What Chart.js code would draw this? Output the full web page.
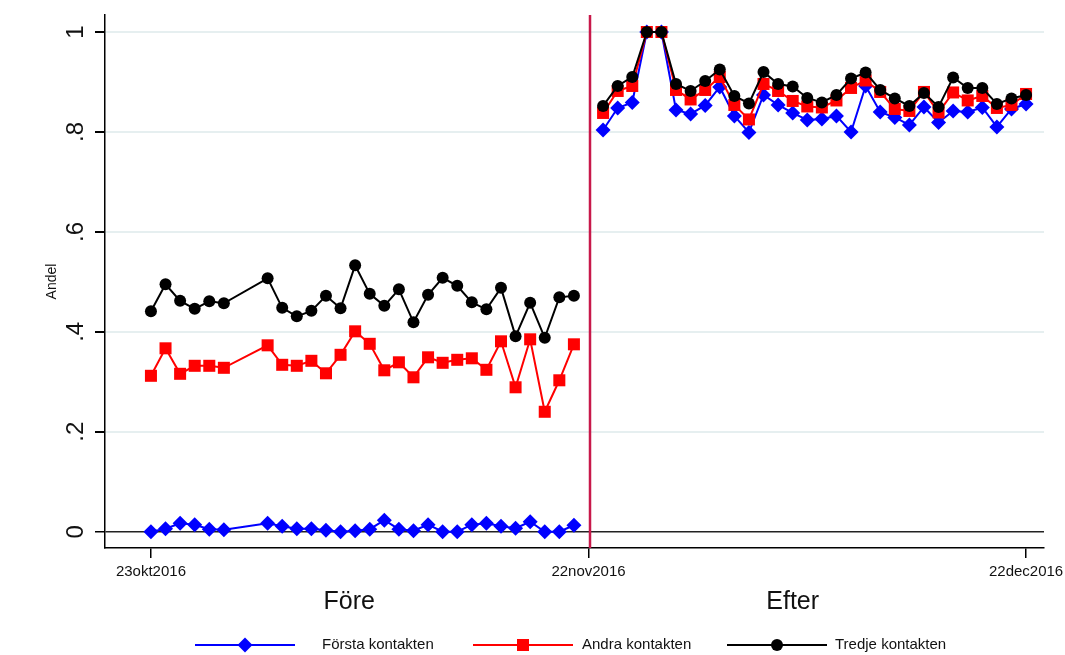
<!DOCTYPE html>
<html>
<head>
<meta charset="utf-8">
<script src="https://cdn.jsdelivr.net/npm/chart.js@4.4.0/dist/chart.umd.min.js"></script>
<style>
    html, body { margin: 0; padding: 0; background: #fff; }
    #wrap { width: 1065px; height: 655px; }
</style>
</head>
<body>
<div id="wrap"><canvas id="grafik" width="1065" height="655"></canvas></div>
<script>
// 1. DATA (dag 0 = 23okt2016, dag 30 = 22nov2016 = brytpunkt, null ger glapp)
const dagar = [0, 1, 2, 3, 4, 5, 8, 9, 10, 11, 12, 13, 14, 15, 16, 17, 18, 19, 20, 21, 22, 23, 24, 25, 26, 27, 28, 29,
    30,
    31, 32, 33, 34, 35, 36, 37, 38, 39, 40, 41, 42, 43, 44, 45, 46, 47, 48, 49, 50, 51, 52, 53, 54, 55, 56, 57, 58, 59, 60];

const forsta = [0.000, 0.006, 0.017, 0.014, 0.005, 0.004, 0.017, 0.011, 0.006, 0.006, 0.003, 0.000, 0.002, 0.005,
    0.023, 0.005, 0.002, 0.014, 0.000, 0.000, 0.014, 0.017, 0.011, 0.007, 0.020, 0.000, 0.000, 0.013,
    null,
    0.804, 0.848, 0.859, 1.0, 1.0, 0.844, 0.836, 0.853, 0.890, 0.832, 0.799, 0.874, 0.854, 0.838, 0.824,
    0.826, 0.832, 0.800, 0.892, 0.840, 0.829, 0.814, 0.850, 0.819, 0.842, 0.840, 0.849, 0.810, 0.846, 0.856];

const andra = [0.312, 0.367, 0.316, 0.332, 0.332, 0.328, 0.373, 0.334, 0.332, 0.342, 0.317, 0.354, 0.401, 0.376,
    0.323, 0.339, 0.309, 0.349, 0.338, 0.344, 0.347, 0.324, 0.381, 0.289, 0.385, 0.240, 0.303, 0.375,
    null,
    0.838, 0.882, 0.892, 1.0, 1.0, 0.884, 0.865, 0.884, 0.910, 0.854, 0.825, 0.896, 0.882, 0.862, 0.851,
    0.849, 0.863, 0.888, 0.903, 0.880, 0.846, 0.842, 0.880, 0.839, 0.879, 0.863, 0.872, 0.848, 0.854, 0.876];

const tredje = [0.441, 0.495, 0.462, 0.446, 0.461, 0.457, 0.507, 0.448, 0.431, 0.442, 0.472, 0.447, 0.533, 0.476,
    0.452, 0.485, 0.419, 0.474, 0.508, 0.492, 0.459, 0.445, 0.488, 0.391, 0.458, 0.388, 0.469, 0.472,
    null,
    0.852, 0.892, 0.910, 1.0, 1.0, 0.896, 0.882, 0.902, 0.925, 0.872, 0.857, 0.920, 0.896, 0.891, 0.868,
    0.859, 0.874, 0.907, 0.919, 0.884, 0.867, 0.852, 0.878, 0.850, 0.909, 0.888, 0.888, 0.856, 0.867, 0.874];

const xTickVarden = [0, 30, 60];
const xTickEtiketter = ['23okt2016', '22nov2016', '22dec2016'];
const yTickVarden = [0, 0.2, 0.4, 0.6, 0.8, 1];
const yTickEtiketter = ['0', '.2', '.4', '.6', '.8', '1'];
const brytDag = 30;
const periodEtiketter = ['Före', 'Efter'];
const periodDagar = [13.6, 44];
const serieNamn = ['Första kontakten', 'Andra kontakten', 'Tredje kontakten'];

// 2. HJÄLPFUNKTIONER
const punkter = serie => dagar.map((d, i) => ({ x: d, y: serie[i] }));
const FONT = '"Liberation Sans", Arial, sans-serif';

function ritaMarkor(ctx, stil, x, y, farg) {
    ctx.fillStyle = farg;
    ctx.beginPath();
    if (stil === 'rectRot') {
        const r = 7.5;
        ctx.moveTo(x - r, y); ctx.lineTo(x, y - r); ctx.lineTo(x + r, y); ctx.lineTo(x, y + r);
    } else if (stil === 'rect') {
        ctx.rect(x - 6, y - 6, 12, 12);
    } else {
        ctx.arc(x, y, 6, 0, Math.PI * 2);
    }
    ctx.closePath();
    ctx.fill();
}

// 3. PLUGIN FÖR TEXTER, BRYTLINJE OCH LEGEND
const extraRitning = {
    id: 'extraRitning',
    beforeDatasetsDraw(chart) {
        const { ctx, chartArea, scales } = chart;
        const x = scales.x.getPixelForValue(brytDag) + 1.5;
        ctx.save();
        ctx.strokeStyle = '#c8184a';
        ctx.lineWidth = 2.5;
        ctx.beginPath();
        ctx.moveTo(x, chartArea.top);
        ctx.lineTo(x, chartArea.bottom);
        ctx.stroke();
        ctx.restore();
    },
    afterDraw(chart) {
        const { ctx, chartArea, scales } = chart;
        ctx.save();
        ctx.fillStyle = '#111';

        // y-etiketter, roterade
        ctx.font = '24px ' + FONT;
        ctx.textAlign = 'center';
        ctx.textBaseline = 'middle';
        yTickVarden.forEach((v, i) => {
            ctx.save();
            ctx.translate(76, scales.y.getPixelForValue(v));
            ctx.rotate(-Math.PI / 2);
            ctx.fillText(yTickEtiketter[i], 0, 0);
            ctx.restore();
        });

        // axeltitel
        ctx.font = '14px ' + FONT;
        ctx.save();
        ctx.translate(52, (chartArea.top + chartArea.bottom) / 2);
        ctx.rotate(-Math.PI / 2);
        ctx.fillText('Andel', 0, 0);
        ctx.restore();

        // Före / Efter
        ctx.font = '25px ' + FONT;
        periodEtiketter.forEach((t, i) => {
            ctx.fillText(t, scales.x.getPixelForValue(periodDagar[i]), 602);
        });

        // legend
        const linjeX = [195, 473, 727];
        const textX = [322, 582, 835];
        const legendY = 645;
        ctx.font = '15px ' + FONT;
        ctx.textAlign = 'left';
        chart.data.datasets.forEach((ds, i) => {
            const x0 = linjeX[i];
            ctx.strokeStyle = ds.borderColor;
            ctx.lineWidth = 2;
            ctx.beginPath();
            ctx.moveTo(x0, legendY);
            ctx.lineTo(x0 + 100, legendY);
            ctx.stroke();
            ritaMarkor(ctx, ds.pointStyle, x0 + 50, legendY, ds.borderColor);
            ctx.fillStyle = '#111';
            ctx.fillText(serieNamn[i], textX[i], legendY);
        });
        ctx.restore();
    }
};

// 4. GRAFEN
const ctx = document.getElementById('grafik').getContext('2d');
new Chart(ctx, {
    type: 'line',
    data: {
        datasets: [
            { label: serieNamn[0], data: punkter(forsta), borderColor: '#0000ff', pointBackgroundColor: '#0000ff',
              pointStyle: 'rectRot', pointRadius: 7.5, pointBorderWidth: 0, borderWidth: 2, order: 3 },
            { label: serieNamn[1], data: punkter(andra), borderColor: '#ff0000', pointBackgroundColor: '#ff0000',
              pointStyle: 'rect', pointRadius: 8.5, pointBorderWidth: 0, borderWidth: 2, order: 2 },
            { label: serieNamn[2], data: punkter(tredje), borderColor: '#000000', pointBackgroundColor: '#000000',
              pointStyle: 'circle', pointRadius: 6, pointBorderWidth: 0, borderWidth: 2, order: 1 }
        ]
    },
    options: {
        responsive: false,
        animation: false,
        spanGaps: false,
        layout: { padding: { left: 95, right: 21, top: 15, bottom: 67 } },
        plugins: { legend: { display: false }, tooltip: { enabled: false } },
        scales: {
            x: {
                type: 'linear',
                min: -3.15,
                max: 61.23,
                afterBuildTicks: s => { s.ticks = xTickVarden.map(v => ({ value: v })); },
                afterFit: s => { s.height = 40; s.paddingLeft = 0; s.paddingRight = 0; },
                ticks: {
                    callback: (v, i) => xTickEtiketter[i],
                    autoSkip: false, maxRotation: 0, padding: 5,
                    color: '#111', font: { family: FONT, size: 15 }
                },
                grid: { drawOnChartArea: false, tickLength: 10, tickColor: '#000', lineWidth: 1.5 },
                border: { color: '#000', width: 1.5 }
            },
            y: {
                min: -0.0326,
                max: 1.034,
                afterBuildTicks: s => { s.ticks = yTickVarden.map(v => ({ value: v })); },
                afterFit: s => { s.width = 10; s.paddingTop = 0; s.paddingBottom = 0; },
                ticks: { display: false },
                grid: {
                    color: c => (c.tick && c.tick.value === 0) ? '#222' : '#e6eff0',
                    lineWidth: c => (c.tick && c.tick.value === 0) ? 1.5 : 2,
                    tickLength: 10, tickColor: '#000'
                },
                border: { color: '#000', width: 1.5 }
            }
        }
    },
    plugins: [extraRitning]
});
</script>
</body>
</html>
